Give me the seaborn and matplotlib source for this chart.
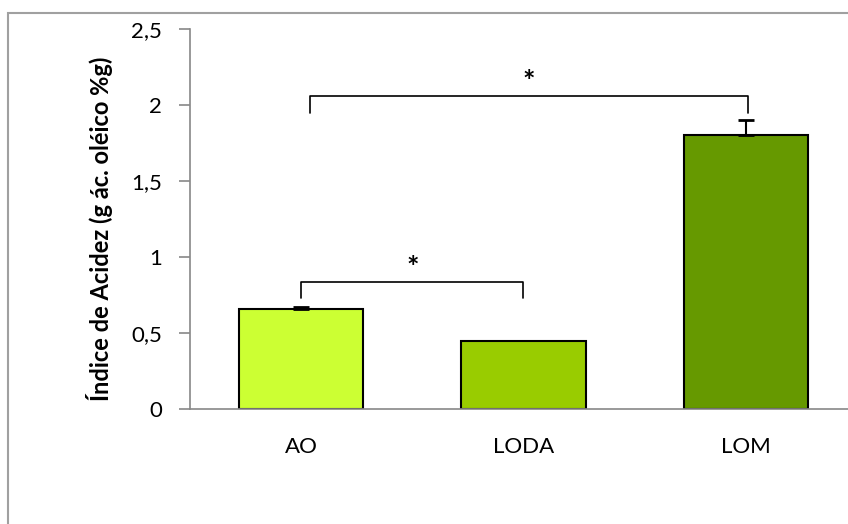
import seaborn as sns
import matplotlib.pyplot as plt
from matplotlib.patches import Rectangle

# data
groups = ["AO", "LODA", "LOM"]
acidez = [0.66, 0.45, 1.80]
err_sup = [0.01, 0.0, 0.10]
colores = ["#CCFF33", "#99CC00", "#669900"]
tick_vals = [0, 0.5, 1, 1.5, 2, 2.5]
tick_txt = ["0", "0,5", "1", "1,5", "2", "2,5"]

# significance brackets: (group a, group b, bracket height, leg bottom)
comparaciones = [(0, 1, 0.835, 0.73), (0.04, 2.01, 2.06, 1.95)]

sns.set_style("white")
plt.rcParams['font.family'] = ['Lato', 'DejaVu Sans']

fig = plt.figure(figsize=(8.48, 5.24), dpi=100)
ax = fig.add_axes([190 / 848, 1 - 409 / 524, 1 - 190 / 848, 380 / 524])

sns.barplot(x=groups, y=acidez, hue=groups, palette=colores, legend=False,
            saturation=1, width=0.56, edgecolor="black", linewidth=1.5,
            ax=ax, zorder=2)

# only the bars that have an error value
idx = [i for i, e in enumerate(err_sup) if e > 0]
ax.errorbar(idx, [acidez[i] for i in idx],
            yerr=[[0] * len(idx), [err_sup[i] for i in idx]], fmt="none",
            ecolor="black", elinewidth=1.5, capsize=6, capthick=2, zorder=3)

# brackets + asterisks
for a, b, h, leg in comparaciones:
    ax.plot([a, a, b, b], [leg, h, h, leg], color="black", lw=1.2, zorder=4)
    ax.text((a + b) / 2, h + 0.09, "*", ha="center", va="center",
            fontsize=21, fontweight="bold", color="black")

ax.set_ylim(0, 2.5)
ax.set_xlim(-0.5, 2.46)
ax.set_yticks(tick_vals)
ax.set_yticklabels(tick_txt)
ax.tick_params(axis="y", direction="out", length=8, width=1.2, color="#888888",
               pad=12, labelsize=16, labelcolor="black", left=True)
ax.tick_params(axis="x", length=0, pad=20, labelsize=16, labelcolor="black")
for s in ["top", "right"]:
    ax.spines[s].set_visible(False)
for s in ["left", "bottom"]:
    ax.spines[s].set_color("#888888")
    ax.spines[s].set_linewidth(1.2)

ax.set_ylabel("Índice de Acidez (g ác. oléico %g)", fontsize=17,
              fontweight="bold", color="black")
ax.yaxis.set_label_coords(-0.117, 0.475)

# outer chart frame (cropped on right and bottom)
fig.patches.append(Rectangle((8 / 848, -0.2), 1.2, 1.2 - 13 / 524,
                             transform=fig.transFigure, fill=False,
                             edgecolor="#a0a0a0", lw=1.5))

fig.savefig("out.png", dpi=100)
